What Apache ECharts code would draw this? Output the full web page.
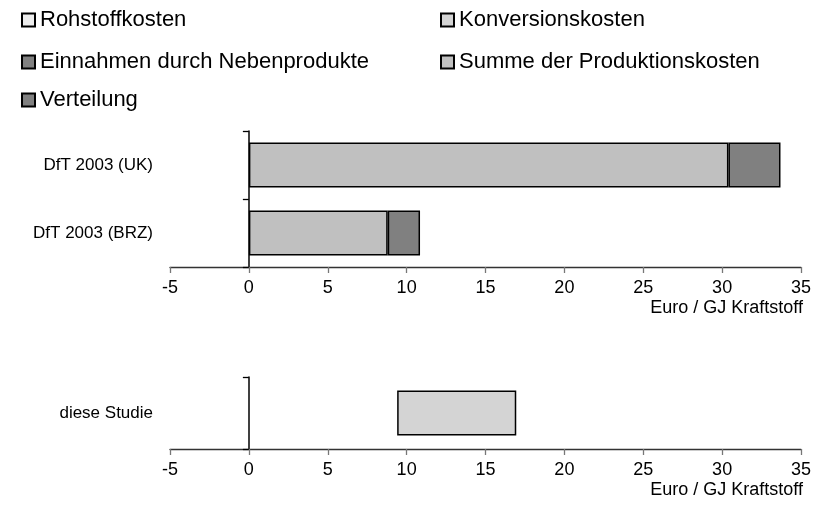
<!DOCTYPE html>
<html>
<head>
<meta charset="utf-8">
<script src="https://cdn.jsdelivr.net/npm/echarts@6/dist/echarts.min.js"></script>
<style>html,body{margin:0;padding:0;background:#fff;}#c{width:814px;height:522px;}</style>
</head>
<body>
<div id="c"></div>
<script>
// ---- data ----
var categories = ['DfT 2003 (UK)', 'DfT 2003 (BRZ)'];
var summeProduktion = [30.4, 8.8];
var verteilung = [3.3, 2.05];
var studyCategories = ['diese Studie'];
var studyLow = [9.4];
var studyHigh = [16.95];
var xTicks = {min: -5, max: 35, interval: 5};
var axisName = 'Euro / GJ Kraftstoff';
var legendNames = ['Rohstoffkosten', 'Konversionskosten', 'Einnahmen durch Nebenprodukte', 'Summe der Produktionskosten', 'Verteilung'];

var FONT = 'Liberation Sans, Arial, sans-serif';
var studySpan = studyHigh.map(function (h, i) { return +(h - studyLow[i]).toFixed(2); });

function xAxisDef(gridIndex) {
  return {
    type: 'value', gridIndex: gridIndex,
    min: xTicks.min, max: xTicks.max, interval: xTicks.interval,
    splitLine: {show: false},
    axisLine: {show: true, onZero: false, lineStyle: {color: '#333', width: 1.3}},
    axisTick: {show: true, length: 6, lineStyle: {color: '#777', width: 1.3}},
    axisLabel: {color: '#000', fontSize: 18, fontFamily: FONT, margin: 12},
    name: axisName, nameLocation: 'end', nameGap: 2,
    nameTextStyle: {color: '#000', fontSize: 18, fontFamily: FONT, align: 'right', verticalAlign: 'top', padding: [32, 0, 0, 0]}
  };
}
function yAxisDef(gridIndex, data) {
  return {
    type: 'category', gridIndex: gridIndex, data: data, inverse: true,
    axisLine: {show: true, onZero: true, lineStyle: {color: '#000', width: 1.5}},
    axisTick: {show: true, length: 6, alignWithLabel: false, lineStyle: {color: '#000', width: 1.3}},
    axisLabel: {color: '#000', fontSize: 17, fontFamily: FONT, margin: 17}
  };
}
var border = {borderColor: '#000', borderWidth: 1.5};
function st(color) { return Object.assign({color: color}, border); }
var legendText = {fontSize: 22, color: '#000', fontFamily: FONT, lineHeight: 22};

// legend placement: two columns, three rows
var legendPos = [[21, 9], [440, 9], [21, 51], [440, 51], [21, 89]];
var legends = legendNames.map(function (n, i) {
  return {left: legendPos[i][0], top: legendPos[i][1], itemWidth: 13, itemHeight: 13, icon: 'rect',
    data: [n], textStyle: legendText, selectedMode: false, padding: 0};
});

var option = {
  backgroundColor: '#fff',
  animation: false,
  textStyle: {fontFamily: FONT},
  legend: legends,
  grid: [
    {left: 170, right: 13, top: 131, height: 136, containLabel: false, outerBoundsMode: 'none'},
    {left: 170, right: 13, top: 377, height: 72, containLabel: false, outerBoundsMode: 'none'}
  ],
  xAxis: [xAxisDef(0), xAxisDef(1)],
  yAxis: [yAxisDef(0, categories), yAxisDef(1, studyCategories)],
  series: [
    {name: 'Rohstoffkosten', type: 'bar', xAxisIndex: 0, yAxisIndex: 0, data: [], itemStyle: st('#eeeeee')},
    {name: 'Einnahmen durch Nebenprodukte', type: 'bar', xAxisIndex: 0, yAxisIndex: 0, data: [], itemStyle: st('#808080')},
    {name: 'Summe der Produktionskosten', type: 'bar', stack: 'top', xAxisIndex: 0, yAxisIndex: 0, barWidth: 45,
     data: summeProduktion, itemStyle: st('#c0c0c0')},
    {name: 'Verteilung', type: 'bar', stack: 'top', xAxisIndex: 0, yAxisIndex: 0, barWidth: 45,
     data: verteilung, itemStyle: st('#808080')},
    {name: 'base', type: 'bar', stack: 'study', xAxisIndex: 1, yAxisIndex: 1, barWidth: 45, silent: true,
     data: studyLow, itemStyle: {color: 'transparent', borderWidth: 0}},
    {name: 'Konversionskosten', type: 'bar', stack: 'study', xAxisIndex: 1, yAxisIndex: 1, barWidth: 45,
     data: studySpan, itemStyle: st('#d4d4d4')}
  ]
};
var chart = echarts.init(document.getElementById('c'), null, {renderer: 'canvas'});
chart.setOption(option);
</script>
</body>
</html>
